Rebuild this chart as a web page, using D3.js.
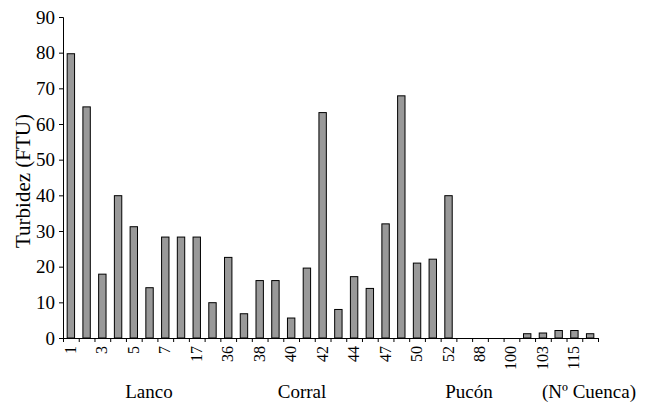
<!DOCTYPE html>
<html>
<head>
<meta charset="utf-8">
<script src="https://cdn.jsdelivr.net/npm/d3@7"></script>
<style>
  body { margin: 0; background: #fff; }
</style>
</head>
<body>
<div id="chart"></div>
<script>
// one label every other basin, as in the original
const basinLabels = ["1", "", "3", "", "5", "", "7", "", "17", "", "36", "", "38", "", "40", "", "42",
  "", "44", "", "47", "", "50", "", "52", "", "88", "", "100", "", "103", "", "115", ""];
const turbidity = [79.7, 64.8, 17.9, 39.9, 31.2, 14.1, 28.3, 28.3, 28.3, 9.9, 22.6, 6.8, 16.1, 16.1,
  5.6, 19.6, 63.2, 8.0, 17.2, 13.9, 32.0, 67.9, 21.0, 22.1, 39.9, 0, 0, 0, 0, 1.2, 1.4, 2.1, 2.1, 1.2];
const yTicks = [0, 10, 20, 30, 40, 50, 60, 70, 80, 90];
const groupNames = ["Lanco", "Corral", "Pucón", "(Nº Cuenca)"];
const groupCenters = [149, 302, 469, 589];

const width = 649, height = 403;
const plotLeft = 63, plotRight = 598, plotTop = 17, plotBottom = 338;
const serif = '"Liberation Serif"';

const svg = d3.select("#chart").append("svg")
    .attr("width", width)
    .attr("height", height);

const idx = turbidity.map((d, i) => i);

const x = d3.scaleBand()
    .domain(idx)
    .range([plotLeft, plotRight])
    .paddingInner(0.53)
    .paddingOuter(0.265);

const y = d3.scaleLinear()
    .domain([0, 90])
    .range([plotBottom, plotTop]);

// category boundaries for the tick marks
const xEdge = d3.scaleLinear().domain([0, idx.length]).range([plotLeft, plotRight]);

svg.selectAll("rect.bar")
    .data(turbidity)
    .enter()
    .append("rect")
    .attr("class", "bar")
    .attr("x", (d, i) => x(i))
    .attr("width", x.bandwidth())
    .attr("y", d => y(d))
    .attr("height", d => y(0) - y(d))
    .attr("fill", "#999999")
    .attr("stroke", "#000")
    .attr("stroke-width", 1)
    .style("display", d => d > 0 ? null : "none");

// y axis
const yAxis = svg.append("g")
    .attr("transform", `translate(${plotLeft},0)`)
    .call(d3.axisLeft(y).tickValues(yTicks).tickSize(4).tickPadding(4));
yAxis.select(".domain").attr("stroke", "#000");
yAxis.selectAll("text")
    .style("font-family", serif)
    .style("font-size", "19px")
    .attr("fill", "#000");

// x axis: line + boundary ticks
const xAxis = svg.append("g")
    .attr("transform", `translate(0,${plotBottom})`)
    .call(d3.axisBottom(xEdge).tickValues(d3.range(idx.length + 1)).tickSize(4).tickFormat(""));
xAxis.select(".domain").attr("stroke", "#000");
xAxis.selectAll("line").attr("stroke", "#000");

svg.append("g")
    .selectAll("text")
    .data(basinLabels)
    .enter()
    .append("text")
    .attr("transform", (d, i) => `translate(${x(i) + x.bandwidth() / 2 + 5},${plotBottom + 8}) rotate(-90)`)
    .attr("text-anchor", "end")
    .style("font-family", serif)
    .style("font-size", "16px")
    .text(d => d);

svg.append("g")
    .selectAll("text")
    .data(groupNames)
    .enter()
    .append("text")
    .attr("x", (d, i) => groupCenters[i])
    .attr("y", 398)
    .attr("text-anchor", "middle")
    .style("font-family", serif)
    .style("font-size", "19px")
    .text(d => d);

svg.append("text")
    .attr("transform", `translate(30,181) rotate(-90)`)
    .attr("text-anchor", "middle")
    .style("font-family", serif)
    .style("font-size", "21px")
    .text("Turbidez (FTU)");
</script>
</body>
</html>
